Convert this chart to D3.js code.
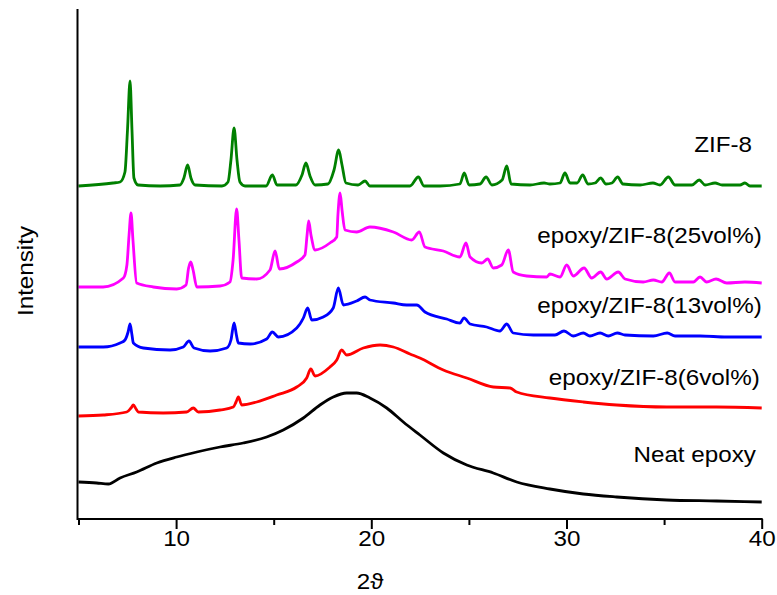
<!DOCTYPE html>
<html>
<head>
<meta charset="utf-8">
<script src="https://cdn.jsdelivr.net/npm/d3@7"></script>
<style>
  html, body { margin: 0; padding: 0; background: #fff; }
  svg { display: block; }
  text { font-family: "Liberation Sans", Arial, sans-serif; fill: #000; }
</style>
</head>
<body>
<svg id="chart" width="777" height="595"></svg>
<script>
// XRD patterns, stacked with vertical offsets (intensity in a.u.)
// Each series: [2theta, intensity]

const zif8 = [
  [5.00,333],[6.77,336],[7.13,337],[7.38,347],[7.51,389],[7.64,438],[7.74,389],[7.84,341],[8.05,334],
  [9.18,333],[10.20,334],[10.40,341],[10.59,354],[10.76,341],[10.97,334],[12.35,333],[12.66,337],
  [12.81,359],[12.97,391],[13.12,359],[13.27,337],[13.53,333],[14.61,333],[14.93,344],[15.17,334],
  [16.14,334],[16.45,344],[16.65,356],[16.86,343],[17.12,334],[17.78,335],[18.09,349],[18.33,369],
  [18.50,354],[18.70,336],[19.32,334],[19.68,338],[19.93,333],[21.98,333],[22.41,342],[22.70,333],
  [23.52,333],[24.54,335],[24.76,346],[25.01,334],[25.57,335],[25.88,342],[26.18,334],[26.70,339],
  [26.94,353],[27.16,335],[28.13,334],[28.85,336],[29.15,335],[29.67,336],[29.92,346],[30.18,336],
  [30.54,336],[30.83,344],[31.10,335],[31.46,336],[31.75,341],[32.02,335],[32.33,336],[32.62,342],
  [32.89,335],[33.77,334],[34.43,336],[34.79,334],[35.22,342],[35.56,334],[36.43,334],[36.80,339],
  [37.10,334],[37.61,336],[37.97,334],[38.89,334],[39.14,336],[39.40,333],[40.00,333]
];

const epoxyZif25 = [
  [5.00,232],[6.26,232],[7.30,241],[7.48,254],[7.59,284],[7.69,306],[7.79,279],[7.98,236],[8.83,232],
  [10.03,230],[10.51,234],[10.64,251],[10.75,257],[10.87,249],[11.06,232],[12.25,233],[12.76,237],
  [12.92,259],[13.10,310],[13.22,279],[13.36,241],[14.13,240],[14.81,249],[15.07,268],[15.29,250],
  [16.18,257],[16.60,264],[16.71,284],[16.79,298],[16.91,284],[17.12,269],[17.88,276],[18.23,282],
  [18.29,304],[18.40,326],[18.50,309],[18.65,289],[19.25,287],[19.93,292],[21.13,287],[22.07,279],
  [22.46,287],[22.75,272],[23.69,268],[24.54,262],[24.85,276],[25.06,262],[25.66,256],[25.96,260],
  [26.25,251],[26.68,254],[27.02,269],[27.27,247],[27.96,243],[28.99,242],[29.15,245],[29.67,242],
  [30.01,254],[30.35,243],[30.90,251],[31.29,241],[31.75,247],[32.06,240],[32.65,247],[33.00,240],
  [33.93,237],[34.45,239],[34.88,237],[35.27,246],[35.56,237],[36.50,237],[36.84,242],[37.18,237],
  [37.66,240],[38.21,236],[39.14,237],[40.00,236]
];

const epoxyZif13 = [
  [5.00,172],[6.27,172],[7.13,176],[7.38,179],[7.54,187],[7.64,195],[7.74,184],[7.81,176],[8.32,171],
  [9.69,169],[10.37,172],[10.66,178],[10.92,171],[11.74,168],[12.59,171],[12.81,179],[12.97,196],
  [13.09,184],[13.19,176],[13.79,175],[14.64,180],[14.93,187],[15.24,182],[16.18,191],[16.52,201],
  [16.74,211],[16.95,199],[17.54,202],[18.05,211],[18.31,231],[18.57,214],[19.25,218],[19.68,222],
  [19.93,219],[21.13,216],[21.81,214],[22.33,214],[22.75,207],[23.86,200],[24.54,196],[24.75,201],
  [25.06,195],[25.91,192],[26.59,188],[26.94,195],[27.27,186],[28.30,184],[29.41,184],[29.87,188],
  [30.35,183],[30.86,186],[31.20,183],[31.72,186],[32.14,183],[32.60,186],[33.00,184],[34.45,183],
  [35.16,186],[35.56,183],[36.84,183],[38.21,182],[40.00,182]
];

const epoxyZif6 = [
  [5.00,103],[6.27,104],[7.47,107],[7.69,111],[7.81,114],[7.95,110],[8.06,107],[9.34,106],[10.54,107],
  [10.88,111],[11.14,107],[12.25,109],[12.93,112],[13.07,117],[13.19,122],[13.36,114],[14.13,117],
  [15.15,124],[16.18,132],[16.69,141],[16.90,150],[17.12,143],[17.88,152],[18.23,159],[18.48,169],
  [18.74,164],[19.59,171],[20.45,174],[21.13,172],[21.98,165],[22.49,161],[23.69,149],[24.89,141],
  [26.25,132],[27.11,131],[27.45,127],[29.15,121],[30.86,117],[32.57,114],[35.13,112],[37.69,112],
  [40.00,111]
];

const neatEpoxy = [
  [5.00,37],[5.93,36],[6.53,35],[7.13,41],[7.98,47],[9.01,56],[10.03,62],[11.06,67],[12.25,72],
  [13.44,76],[14.64,82],[15.49,89],[16.52,101],[17.37,114],[18.05,122],[18.74,126],[19.25,126],
  [19.93,121],[20.79,111],[21.64,97],[22.49,84],[23.69,66],[24.89,54],[26.25,46],[27.45,37],
  [29.15,30],[30.86,25],[32.57,22],[35.13,19],[37.69,18],[40.00,17]
];

const seriesNames = ["ZIF-8", "epoxy/ZIF-8(25vol%)", "epoxy/ZIF-8(13vol%)", "epoxy/ZIF-8(6vol%)", "Neat epoxy"];
const seriesData = [zif8, epoxyZif25, epoxyZif13, epoxyZif6, neatEpoxy];
const seriesColors = ["#008000", "#ff00ff", "#0000ff", "#ff0000", "#000000"];
// label anchor: right edge in 2theta, baseline in intensity units
const labelPos = [[39.5, 367], [40, 276], [40, 206], [39.9, 134], [39.7, 57]];

const xTicks = [5, 10, 15, 20, 25, 30, 35, 40];
const xTickLabels = [10, 20, 30, 40];

const svg = d3.select("#chart");
const x = d3.scaleLinear().domain([5, 40]).range([78.5, 761.7]);
const y = d3.scaleLinear().domain([0, 510]).range([519, 9]);

// traces
const line = d3.line().curve(d3.curveMonotoneX).x(d => x(d[0])).y(d => y(d[1]));
seriesData.forEach((s, i) => {
  svg.append("path")
    .datum(s)
    .attr("d", line)
    .attr("fill", "none")
    .attr("stroke", seriesColors[i])
    .attr("stroke-width", 2.8)
    .attr("stroke-linejoin", "round");
});

// series labels
seriesNames.forEach((name, i) => {
  svg.append("text")
    .attr("transform", `translate(${x(labelPos[i][0])},${y(labelPos[i][1])}) scale(1.1,1)`)
    .attr("text-anchor", "end")
    .style("font-size", "22px")
    .text(name);
});

// bottom axis
const xAxis = d3.axisBottom(x)
  .tickValues(xTicks)
  .tickSize(10)
  .tickPadding(1)
  .tickFormat(d => xTickLabels.includes(d) ? d : "");
const gx = svg.append("g").attr("transform", `translate(0,${y(0)})`).call(xAxis);
gx.select(".domain").attr("stroke", "#000").attr("stroke-width", 2).attr("d", `M${x(5) - 1},0H${x(40) + 1}`);
gx.selectAll(".tick line").attr("stroke", "#000").attr("stroke-width", 2)
  .attr("y2", d => xTickLabels.includes(d) ? 10 : 6);
gx.selectAll(".tick text")
  .style("font-size", "22px")
  .style("font-family", "'Liberation Sans', Arial, sans-serif")
  .attr("transform", "scale(1.1,1)");

// left spine (no ticks)
svg.append("line")
  .attr("x1", x(5) - 1).attr("x2", x(5) - 1)
  .attr("y1", y(510)).attr("y2", y(0) + 1)
  .attr("stroke", "#000").attr("stroke-width", 2);

// axis titles
svg.append("text")
  .attr("transform", `translate(${(x(5) + x(40)) / 2 - 50},589) scale(1.1,1)`)
  .attr("text-anchor", "middle")
  .style("font-size", "22px")
  .text("2ϑ");

svg.append("text")
  .attr("transform", `translate(33,271) rotate(-90) scale(1.1,1)`)
  .attr("text-anchor", "middle")
  .style("font-size", "22px")
  .text("Intensity");
</script>
</body>
</html>
